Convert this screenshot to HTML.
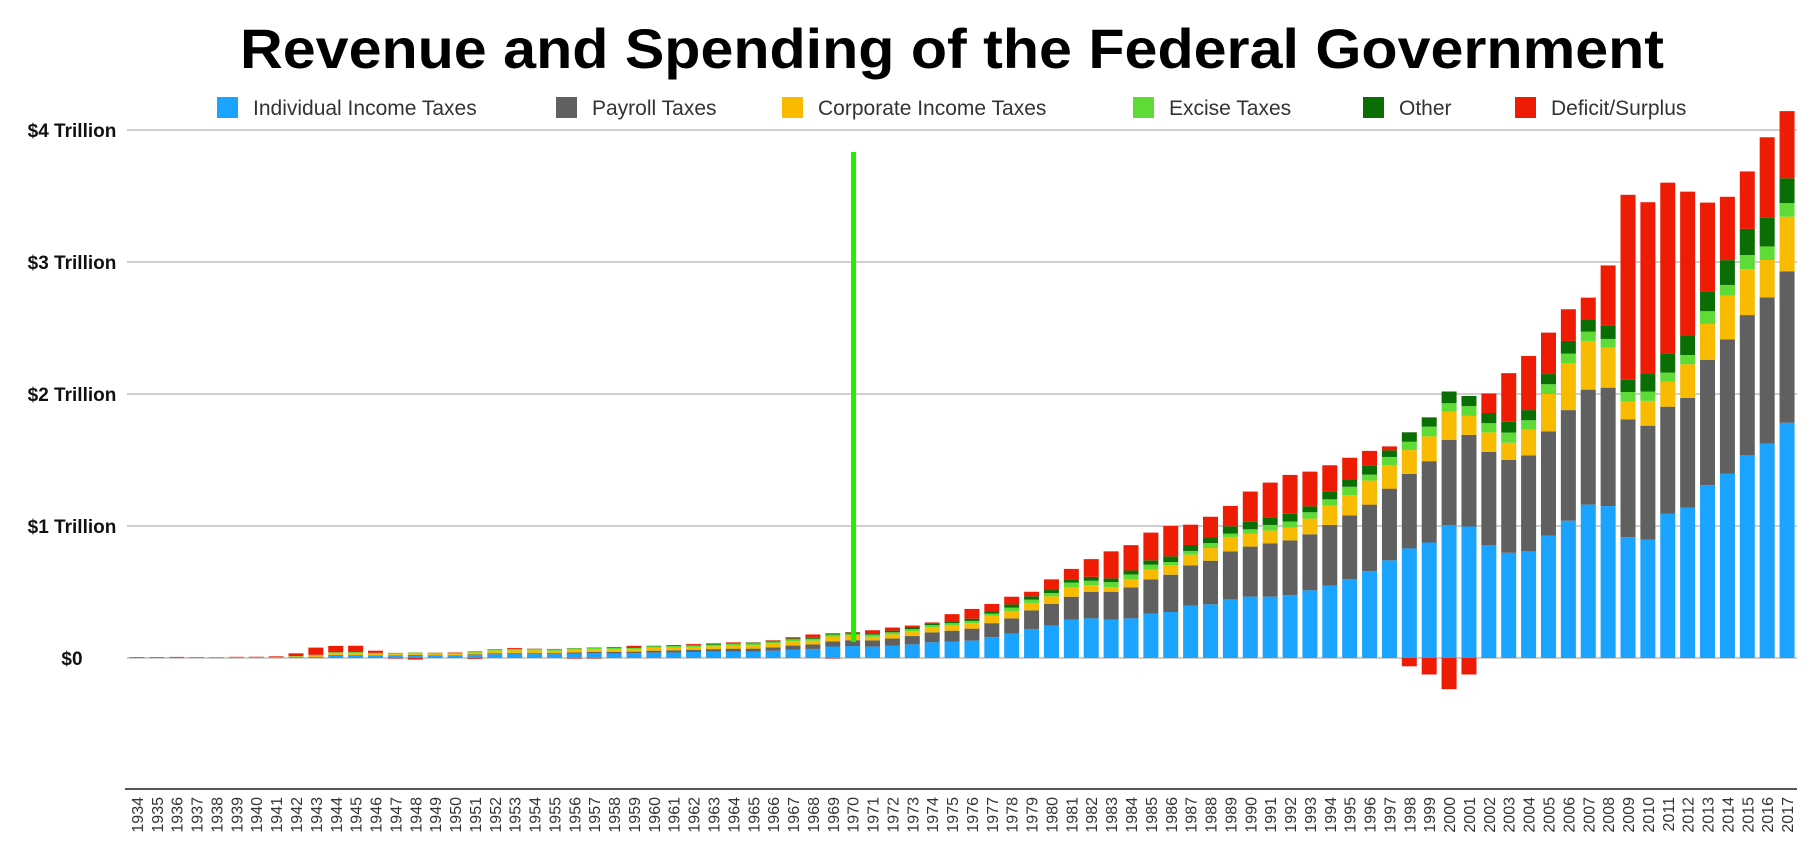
<!DOCTYPE html>
<html><head><meta charset="utf-8"><style>
html,body{margin:0;padding:0;background:#fff;}
svg{display:block;font-family:"Liberation Sans",Arial,sans-serif;}
</style></head><body>
<svg id="chart" width="1816" height="846" viewBox="0 0 1816 846" xmlns="http://www.w3.org/2000/svg">
<text x="952" y="68" text-anchor="middle" font-size="56" font-weight="bold" textLength="1424" lengthAdjust="spacingAndGlyphs" fill="#000">Revenue and Spending of the Federal Government</text>
<g id="legend" font-size="21" fill="#333"></g>
<g id="grid"></g>
<g id="bars"></g>
<g id="xlabels" font-size="16" fill="#333"></g>
<line x1="125" x2="1797" y1="789" y2="789" stroke="#555" stroke-width="2"/>
<rect x="851" y="152" width="5" height="490" fill="#22f000"/>
</svg>
<script>
const years=[];for(let y=1934;y<=2017;y++)years.push(y);
// billions of dollars
const individual=[0.4,0.5,0.7,1.1,1.3,1.0,0.9,1.3,3.3,6.5,19.7,18.4,16.1,17.9,19.3,15.6,15.8,21.6,27.9,29.8,29.5,28.7,32.2,35.6,34.7,36.7,40.7,41.3,45.6,47.6,48.7,48.8,55.4,61.5,68.7,87.2,90.4,86.2,94.7,103.2,119.0,122.4,131.6,157.6,
184,220,245,290,300,290,300,336,348,396,407,444,465,465,477,513,548,598,657,740,
830,875,1007,996,856,797,808,926,1040,1162,1151,915,897,1092,1140,1310,1395,1535,1624,1782];
const payroll=[0.03,0.03,0.05,0.6,1.5,1.6,1.8,1.9,2.5,3.0,3.5,3.5,3.1,3.4,3.8,3.8,4.3,5.7,6.4,6.8,7.2,7.9,9.3,10.0,11.2,11.7,14.7,16.4,17.0,19.8,22.0,22.2,25.5,32.6,33.9,39.0,44.4,47.3,52.6,63.1,75.1,84.5,90.8,106.5,
116,141,164,174,202,212,235,260,283,306,330,364,379,404,414,424,460,482,505,543,
565,616,646,694,705,705,727,790,838,871,897,893,863,812,830,948,1018,1063,1107,1148];
const corporate=[0.4,0.5,0.8,1.1,1.3,1.1,1.2,2.1,4.7,9.6,14.8,16.0,11.9,8.6,9.7,11.2,10.4,14.1,21.2,21.2,21.1,17.9,20.9,21.2,20.1,17.3,21.5,21.0,20.5,21.6,23.5,25.5,30.1,34.0,28.7,36.7,32.8,26.8,32.2,36.2,38.6,40.6,41.4,54.9,
56,56,58,73,50,35,63,73,73,81,96,109,96,96,98,119,146,154,182,179,
180,188,214,144,148,129,196,284,354,369,303,133,188,188,255,273,332,347,284,413];
const excise=[1.4,1.4,1.6,1.9,1.9,1.9,2.0,2.6,3.4,4.1,4.8,6.3,6.7,7.2,7.4,7.6,7.6,8.6,8.9,9.9,10.0,9.2,9.9,11.0,10.6,10.6,11.7,12.1,12.5,13.2,13.7,14.6,13.1,13.7,14.1,15.2,15.7,16.6,15.5,16.3,16.8,16.6,17.0,17.5,
25,25,25,35,33,38,35,38,23,28,38,25,35,43,45,48,48,63,45,61,
63,74,63,74,70,77,70,74,74,70,66,74,70,70,70,96,81,107,103,103];
const other=[0.7,1.2,0.8,0.8,0.8,0.6,0.7,0.7,0.7,0.9,0.9,1.0,1.6,1.6,1.6,1.2,1.4,1.6,1.7,1.9,1.9,1.9,2.2,2.5,3.0,3.2,4.1,3.6,3.9,4.4,4.7,5.7,6.7,7.0,7.6,8.6,9.5,10.2,12.4,12.0,13.7,14.9,17.3,19.0,
25,25,23,25,30,28,30,33,43,45,45,56,56,53,58,45,56,56,71,50,
72,70,89,77,77,81,77,77,96,92,103,92,140,144,151,151,188,199,218,188];
const deficit=[3.6,2.8,4.3,2.2,0.1,2.8,2.9,4.9,20.5,54.6,47.6,47.6,15.9,-4.0,-11.8,0.6,3.1,-6.1,1.5,6.5,1.2,3.0,-3.9,-3.4,2.8,12.8,-0.3,3.3,7.1,4.8,5.9,1.4,3.7,8.6,25.2,-3.2,2.8,23.0,23.4,14.9,6.1,53.2,73.7,53.7,
58,35,81,78,134,205,192,210,230,154,154,154,230,268,295,263,202,164,109,30,
-63,-125,-236,-125,148,369,410,314,240,166,454,1402,1295,1295,1087,672,480,435,609,509];
const seriesNames=["Individual Income Taxes","Payroll Taxes","Corporate Income Taxes","Excise Taxes","Other","Deficit/Surplus"];
const seriesColors=["#1aa3ff","#606060","#f8bb00","#5fdb37","#0a6e05","#ee1c05"];
const yTicks=[0,1000,2000,3000,4000];
const yTickLabels=["$0","$1 Trillion","$2 Trillion","$3 Trillion","$4 Trillion"];

const NS="http://www.w3.org/2000/svg";
const X0=127,X1=1797,Y0=658,PXB=0.132;
const slot=(X1-X0)/years.length;
function xC(i){return X0+slot*(i+0.5);}
function yS(v){return Y0-v*PXB;}
function mk(t,a,p){const e=document.createElementNS(NS,t);for(const k in a)e.setAttribute(k,a[k]);p.appendChild(e);return e;}

const grid=document.getElementById('grid');
yTicks.forEach((t,i)=>{
  const l=mk('line',{x1:127,x2:1797,y1:yS(t),y2:yS(t),stroke:'#cfcfcf','stroke-width':2},grid);
  
  
  const tx=mk('text',{x:72,y:yS(t)+7,'text-anchor':'middle','font-size':19,'font-weight':'bold',fill:'#111'},grid);
  tx.textContent=yTickLabels[i];
  
  
});

const series=[individual,payroll,corporate,excise,other];
const bars=document.getElementById('bars');
const BW=15;
years.forEach((yr,i)=>{
  let acc=0;
  series.forEach((s,k)=>{
    const v=s[i];
    const r=mk('rect',{x:xC(i)-BW/2,y:yS(acc+v),width:BW,height:Math.max(0,v*PXB),fill:seriesColors[k]},bars);
    
    
    acc+=v;
  });
  const d=deficit[i];
  let r;
  if(d>=0){r=mk('rect',{x:xC(i)-BW/2,y:yS(acc+d),width:BW,height:d*PXB,fill:seriesColors[5]},bars);}
  else{r=mk('rect',{x:xC(i)-BW/2,y:Y0,width:BW,height:-d*PXB,fill:seriesColors[5]},bars);}
  
  
  const t=mk('text',{transform:`translate(${xC(i)+6},797) rotate(-90)`,'text-anchor':'end'},document.getElementById('xlabels'));
  t.textContent=yr;
  
  
});

const legend=document.getElementById('legend');
const legX=[217,556,782,1133,1363,1515];
seriesNames.forEach((n,k)=>{
  const g=mk('g',{},legend);
  
  
  mk('rect',{x:legX[k],y:97,width:21,height:21,fill:seriesColors[k]},g);
  const t=mk('text',{x:legX[k]+36,y:115},g);
  t.textContent=n;
});
</script>
</body></html>
